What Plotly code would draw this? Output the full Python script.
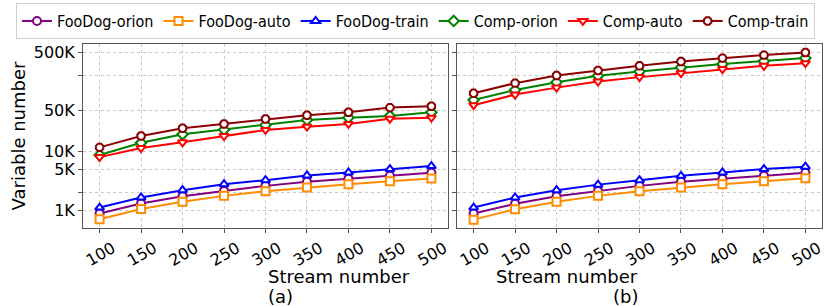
import plotly.graph_objects as go

streams = [100, 150, 200, 250, 300, 350, 400, 450, 500]

# panel (a)
a_foodog_orion = [880, 1300, 1740, 2140, 2610, 3060, 3440, 3880, 4360]
a_foodog_auto = [700, 1050, 1390, 1760, 2120, 2450, 2790, 3140, 3500]
a_foodog_train = [1110, 1650, 2200, 2790, 3270, 3940, 4430, 5050, 5690]
a_comp_orion = [8800, 14300, 19900, 23800, 28700, 35000, 38300, 41000, 47400]
a_comp_auto = [8100, 11600, 14500, 18600, 23600, 26800, 29900, 36800, 38300]
a_comp_train = [11900, 18600, 25200, 29900, 36400, 42100, 47400, 56900, 60100]

# panel (b)
b_foodog_orion = [880, 1290, 1730, 2140, 2610, 3060, 3440, 3880, 4360]
b_foodog_auto = [690, 1040, 1390, 1760, 2120, 2450, 2790, 3140, 3520]
b_foodog_train = [1110, 1650, 2200, 2740, 3270, 3880, 4430, 5050, 5550]
b_comp_orion = [77000, 114000, 155000, 199000, 236000, 276000, 316000, 355000, 400000]
b_comp_auto = [62500, 95000, 125000, 159000, 189000, 221000, 259000, 295000, 328000]
b_comp_train = [100000, 149000, 201000, 245000, 295000, 350000, 400000, 450000, 499000]

names = ["FooDog-orion", "FooDog-auto", "FooDog-train", "Comp-orion", "Comp-auto", "Comp-train"]
colors = ["#800080", "#FF8C00", "#0000FF", "#008000", "#FF0000", "#8B0000"]
symbols = ["circle", "square", "triangle-up", "diamond", "triangle-down", "octagon"]

ytick_vals = [1000, 2000, 5000, 10000, 50000, 200000, 500000]
ytick_text = ["1K", "", "5K", "10K", "50K", "", "500K"]

panel_a = [a_foodog_orion, a_foodog_auto, a_foodog_train, a_comp_orion, a_comp_auto, a_comp_train]
panel_b = [b_foodog_orion, b_foodog_auto, b_foodog_train, b_comp_orion, b_comp_auto, b_comp_train]

fig = go.Figure()
for pi, (panel, xa, ya) in enumerate([(panel_a, "x", "y"), (panel_b, "x2", "y2")]):
    for i, vals in enumerate(panel):
        fig.add_trace(go.Scatter(
            x=streams, y=vals, xaxis=xa, yaxis=ya,
            mode="lines+markers", name=names[i], showlegend=(pi == 0),
            line=dict(color=colors[i], width=2),
            marker=dict(symbol=symbols[i], size=8, color="white",
                        line=dict(color=colors[i], width=2)),
        ))

FONT = "DejaVu Sans"
LEG_FONT = "DejaVu Sans Condensed, DejaVu Sans"
W = 831
dom_a = [83 / W, 448 / W]
dom_b = [457 / W, 822 / W]
axis_common = dict(showline=True, mirror=True, linecolor="#555555", linewidth=1,
                   showgrid=True, gridcolor="#c8c8c8", griddash="dot", gridwidth=1,
                   ticks="outside", ticklen=4, tickcolor="#555555",
                   tickfont=dict(family=FONT, size=16, color="black"), zeroline=False,
                   automargin=False)
x_common = dict(range=[80, 520], tickvals=streams, tickangle=-30, ticklabelshift=13,
                ticklabelstandoff=0)

fig.update_layout(
    width=831, height=306,
    margin=dict(l=0, r=0, t=44, b=78, autoexpand=False),
    plot_bgcolor="white", paper_bgcolor="white",
    font=dict(family=FONT, color="black"),
    xaxis=dict(domain=dom_a, **x_common, **axis_common),
    xaxis2=dict(domain=dom_b, anchor="y2", **x_common, **axis_common),
    yaxis=dict(type="log", range=[2.696, 5.843], tickvals=ytick_vals, ticktext=ytick_text,
               title=dict(text="Variable number", font=dict(family=FONT, size=18), standoff=3),
               anchor="x", **axis_common),
    yaxis2=dict(type="log", range=[2.696, 5.843], tickvals=ytick_vals, showticklabels=False,
                anchor="x2", **axis_common),
    legend=dict(orientation="h", xref="container", yref="container",
                x=0.5, xanchor="center", y=0.99, yanchor="top",
                bordercolor="#d0d0d0", borderwidth=1,
                font=dict(family=LEG_FONT, size=16), itemwidth=30,
                tracegroupgap=0),
)

for dom, lab in [(dom_a, "(a)"), (dom_b, "(b)")]:
    cx = (dom[0] + dom[1]) / 2
    fig.add_annotation(x=cx, y=-0.262, xref="paper", yref="paper", text="Stream number",
                       showarrow=False, font=dict(family=FONT, size=18), yanchor="middle")
    fig.add_annotation(x=cx, y=-0.372, xref="paper", yref="paper", text=lab,
                       showarrow=False, font=dict(family=FONT, size=18), yanchor="middle")

fig.write_html("out.html", config={"displayModeBar": False},
               post_script="document.body.style.margin='0px';")
